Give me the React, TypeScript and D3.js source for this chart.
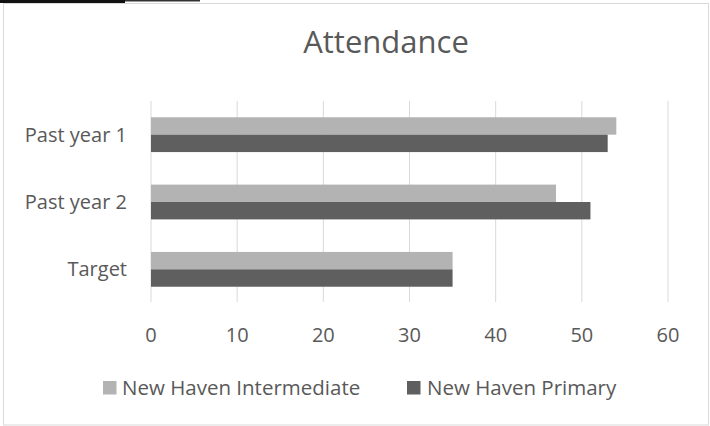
import React from "react";
import * as d3 from "d3";

const categories = ["Past year 1", "Past year 2", "Target"];
const intermediate = [54, 47, 35];
const primary = [53, 51, 35];
const xTicks = [0, 10, 20, 30, 40, 50, 60];
const seriesNames = ["New Haven Intermediate", "New Haven Primary"];
const colors = ["#b3b3b3", "#5f5f5f"];

export default function App() {
  const W = 710, H = 426;
  const x = d3.scaleLinear().domain([0, 60]).range([151, 668]);
  const y = d3.scaleBand<string>().domain(categories).range([101, 303]).paddingInner(0).paddingOuter(0);
  const barH = 17.4;
  const font = "'Open Sans', sans-serif";
  const txt = "#595959";
  return (
    <div style={{ position: "fixed", left: 0, top: 0 }}>
      <svg width={W} height={H} style={{ display: "block" }}>
        <rect x={0} y={0} width={W} height={H} fill="#fff" />
        <rect x={3.5} y={3.5} width={705} height={421.5} fill="#fff" stroke="#d9d9d9" strokeWidth={1} />
        <rect x={0} y={0} width={125} height={3} fill="#111" />
        <rect x={125} y={0} width={75} height={1.5} fill="#333" />
        <text x={386} y={53} textAnchor="middle" fontFamily={font} fontSize={31} fill={txt}>Attendance</text>
        {xTicks.map((t) => (
          <line key={"g" + t} x1={x(t)} x2={x(t)} y1={101} y2={302} stroke="#d9d9d9" strokeWidth={1} />
        ))}
        {categories.map((c, i) => {
          const cy = (y(c) as number) + y.bandwidth() / 2;
          return (
            <g key={c}>
              <rect x={x(0)} y={cy - barH} width={x(intermediate[i]) - x(0)} height={barH} fill={colors[0]} />
              <rect x={x(0)} y={cy} width={x(primary[i]) - x(0)} height={barH} fill={colors[1]} />
              <text x={127} y={cy + 7} textAnchor="end" fontFamily={font} fontSize={20} fill={txt}>{c}</text>
            </g>
          );
        })}
        {xTicks.map((t) => (
          <text key={"t" + t} x={x(t)} y={342} textAnchor="middle" fontFamily={font} fontSize={20} fill={txt}>{t}</text>
        ))}
        <rect x={103} y={381} width={13.5} height={13.5} fill={colors[0]} />
        <text x={122} y={395} fontFamily={font} fontSize={20.5} fill={txt}>{seriesNames[0]}</text>
        <rect x={407} y={381} width={13.5} height={13.5} fill={colors[1]} />
        <text x={427} y={395} fontFamily={font} fontSize={20.5} fill={txt}>{seriesNames[1]}</text>
      </svg>
    </div>
  );
}
